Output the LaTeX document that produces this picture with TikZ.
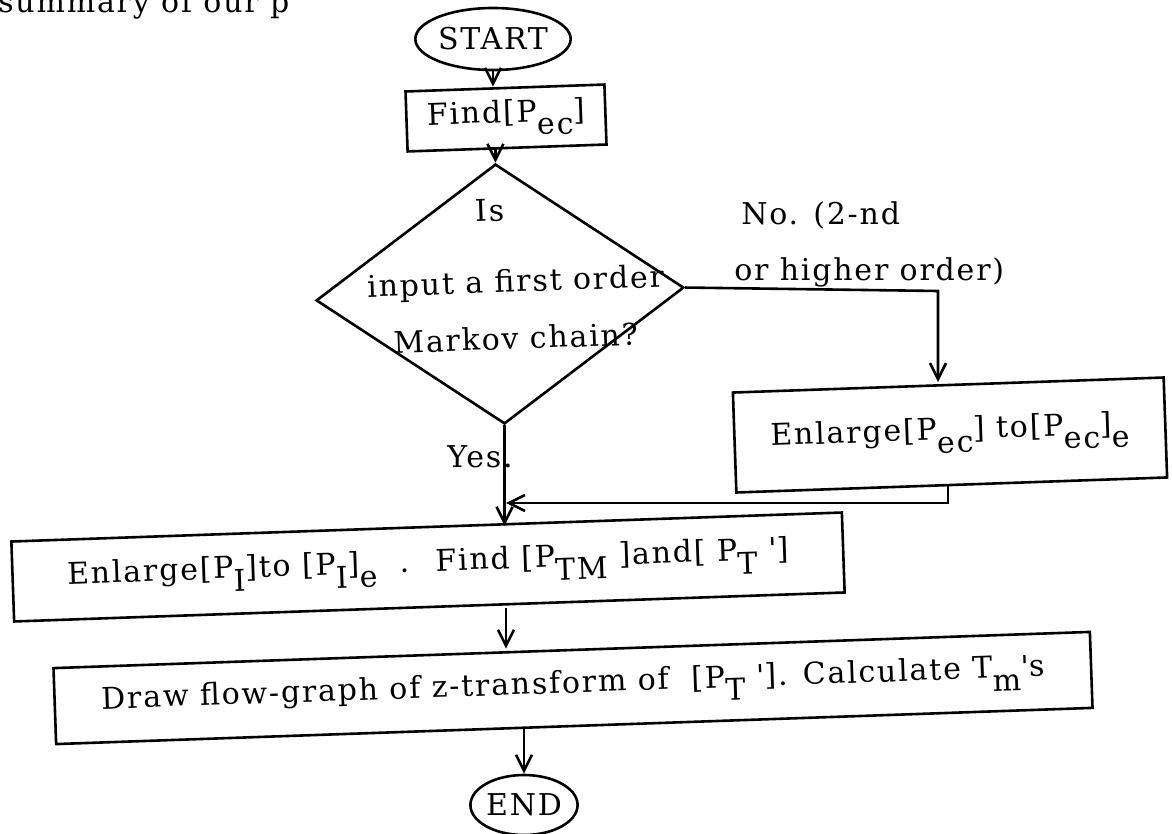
\documentclass[tikz,border=0pt]{standalone}
\usepackage{fontspec}
\setmainfont{DejaVu Serif}[LetterSpace=6]
\usetikzlibrary{shapes.geometric,arrows.meta}
\newcommand\tsub[1]{\raisebox{-0.45em}{#1}}

\begin{document}
\begin{tikzpicture}[x=1pt,y=-1pt,font=\fontsize{30}{36}\selectfont,line width=2.6pt,
  flowbox/.style={draw,rotate=2,inner sep=0},
  term/.style={draw,ellipse,inner sep=0},
  flowarrow/.style={-{Straight Barb[length=16pt,width=16pt]}}]
  \useasboundingbox (0,0) rectangle (1172,834);
  \node[anchor=base west,inner sep=0] (body) at (-3,13) {summary of our p};
  \node[term,minimum width=133,minimum height=62] (start) at (493,39) {START};
  \node[flowbox,minimum width=199,minimum height=60] (find) at (506,118) {Find[P\tsub{ec}]};
  \node[draw,diamond,rotate=2,inner sep=0,minimum width=368,minimum height=260] (quest) at (500,294) {};
  \node[rotate=2,anchor=base] (qis) at (490,221) {Is};
  \node[rotate=2,anchor=base] (qline1) at (516,292) {input a first order};
  \node[rotate=2,anchor=base] (qline2) at (516,349) {Markov chain?};
  \node[anchor=base west,inner sep=0] (nolbl1) at (740,225) {No. (2-nd};
  \node[anchor=base west,inner sep=0] (nolbl2) at (733,280) {or higher order)};
  \node[flowbox,minimum width=431,minimum height=100] (enl) at (950,435) {Enlarge[P\tsub{ec}] to[P\tsub{ec}]\tsub{e}};
  \node[anchor=base east,inner sep=0] (yes) at (514,467) {Yes.};
  \coordinate (merge) at (506,503);
  \node[flowbox,minimum width=831,minimum height=80] (pbox) at (428,567) {Enlarge[P\tsub{I}]to [P\tsub{I}]\tsub{e} \ . \ Find [P\tsub{TM} ]and[ P\tsub{T} \textquotesingle]};
  \node[flowbox,minimum width=1037,minimum height=76] (flowgraph) at (573,688) {Draw flow-graph of z-transform of \ [P\tsub{T} \textquotesingle]. Calculate T\tsub{m}\textquotesingle s};
  \node[term,minimum width=107,minimum height=60] (endn) at (524,805) {END};
  \draw[flowarrow] (start.south) -- (start.south |- find.north);
  \draw[flowarrow] (find.south -| quest.north) -- (quest.north);
  \draw[flowarrow] (quest.east) -- (938,291) -- (938,382);
  \draw[flowarrow] (quest.south) -- (quest.south |- pbox.north);
  \draw[flowarrow] (enl.south -| 948,0) |- (merge);
  \draw[flowarrow] (pbox.south -| merge) -- (flowgraph.north -| merge);
  \draw[flowarrow] (flowgraph.south -| endn.north) -- (endn.north);
\end{tikzpicture}
\end{document}
